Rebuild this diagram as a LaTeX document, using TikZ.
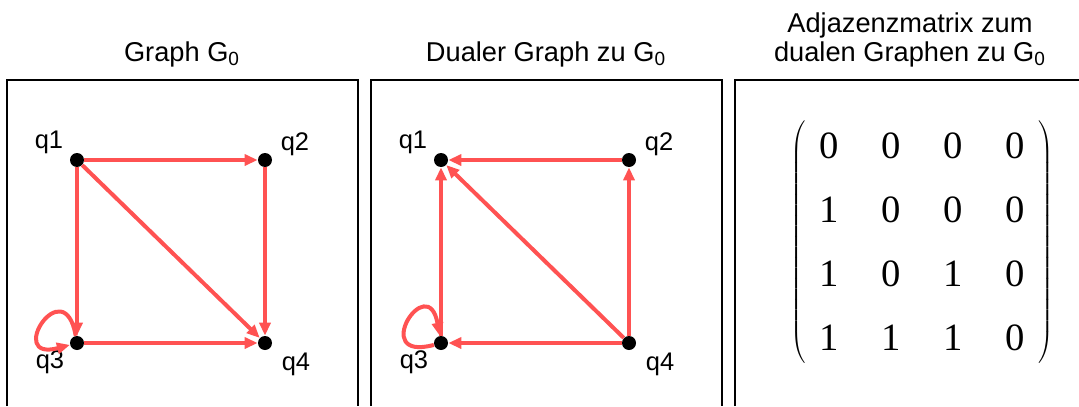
\documentclass[tikz,border=0pt]{standalone}
\usepackage{fontspec}
\setmainfont{Liberation Sans}
\newfontfamily\mxfont{Liberation Serif}
\usetikzlibrary{arrows.meta,matrix}
\definecolor{edgered}{RGB}{255,82,82}

\begin{document}
\begin{tikzpicture}[x=0.02cm, y=-0.02cm,
  dot/.style={circle, fill=black, minimum size=0.28cm, inner sep=0pt},
  lbl/.style={anchor=base, inner sep=0pt, font=\fontsize{14.5}{17}\selectfont},
  title/.style={anchor=base, inner sep=0pt, align=center, font=\fontsize{15.5}{19}\selectfont},
  arc/.style={draw=edgered, line width=0.08cm, -{Triangle[length=0.26cm, width=0.22cm]}},
  panel/.style={draw=black, line width=0.7pt}]
  \useasboundingbox (0,0) rectangle (1079,406);

  % frames
  \draw[panel] (7,406) -- (7,80) -- (358,80) -- (358,406);
  \draw[panel] (371,406) -- (371,80) -- (722,80) -- (722,406);
  \draw[panel] (735,406) -- (735,80) -- (1079,80);

  % titles
  \node[title] (t1) at (182,61) {Graph G\textsubscript{0}};
  \node[title] (t2) at (546,61) {Dualer Graph zu G\textsubscript{0}};
  \node[title] (t3) at (910,32) {Adjazenzmatrix zum};
  \node[title] (t4) at (910,61) {dualen Graphen zu G\textsubscript{0}};

  % graph G0
  \node[dot] (a1) at (77,160) {};
  \node[dot] (a2) at (265,160) {};
  \node[dot] (a3) at (77,343) {};
  \node[dot] (a4) at (265,343) {};
  \node[lbl] (la1) at (49,148) {q1};
  \node[lbl] (la2) at (295,150) {q2};
  \node[lbl] (la3) at (50,368) {q3};
  \node[lbl] (la4) at (296,370) {q4};
  \draw[arc] (a1) -- (a2); \draw[arc] (a1) -- (a3); \draw[arc] (a1) -- (a4);
  \draw[arc] (a2) -- (a4); \draw[arc] (a3) -- (a4);
  \draw[arc] (a3) to[out=100, in=195, looseness=16] (a3);

  % dual graph
  \node[dot] (b1) at (441,160) {};
  \node[dot] (b2) at (629,160) {};
  \node[dot] (b3) at (441,343) {};
  \node[dot] (b4) at (629,343) {};
  \node[lbl] (lb1) at (413,148) {q1};
  \node[lbl] (lb2) at (659,150) {q2};
  \node[lbl] (lb3) at (414,368) {q3};
  \node[lbl] (lb4) at (660,370) {q4};
  \draw[arc] (b2) -- (b1); \draw[arc] (b3) -- (b1); \draw[arc] (b4) -- (b1);
  \draw[arc] (b4) -- (b2); \draw[arc] (b4) -- (b3);
  \draw[arc] (b3) to[out=195, in=100, looseness=16] (b3);

  % adjacency matrix
  \matrix (adj) [matrix of nodes, left delimiter=(, right delimiter=),
    column sep=0.64cm, row sep=0.4cm,
    nodes={minimum width=0.6cm, minimum height=0.88cm, inner sep=0pt,
      font=\mxfont\fontsize{22}{26}\selectfont}]
    at (922,242) {
    0 & 0 & 0 & 0 \\
    1 & 0 & 0 & 0 \\
    1 & 0 & 1 & 0 \\
    1 & 1 & 1 & 0 \\
  };
\end{tikzpicture}
\end{document}
